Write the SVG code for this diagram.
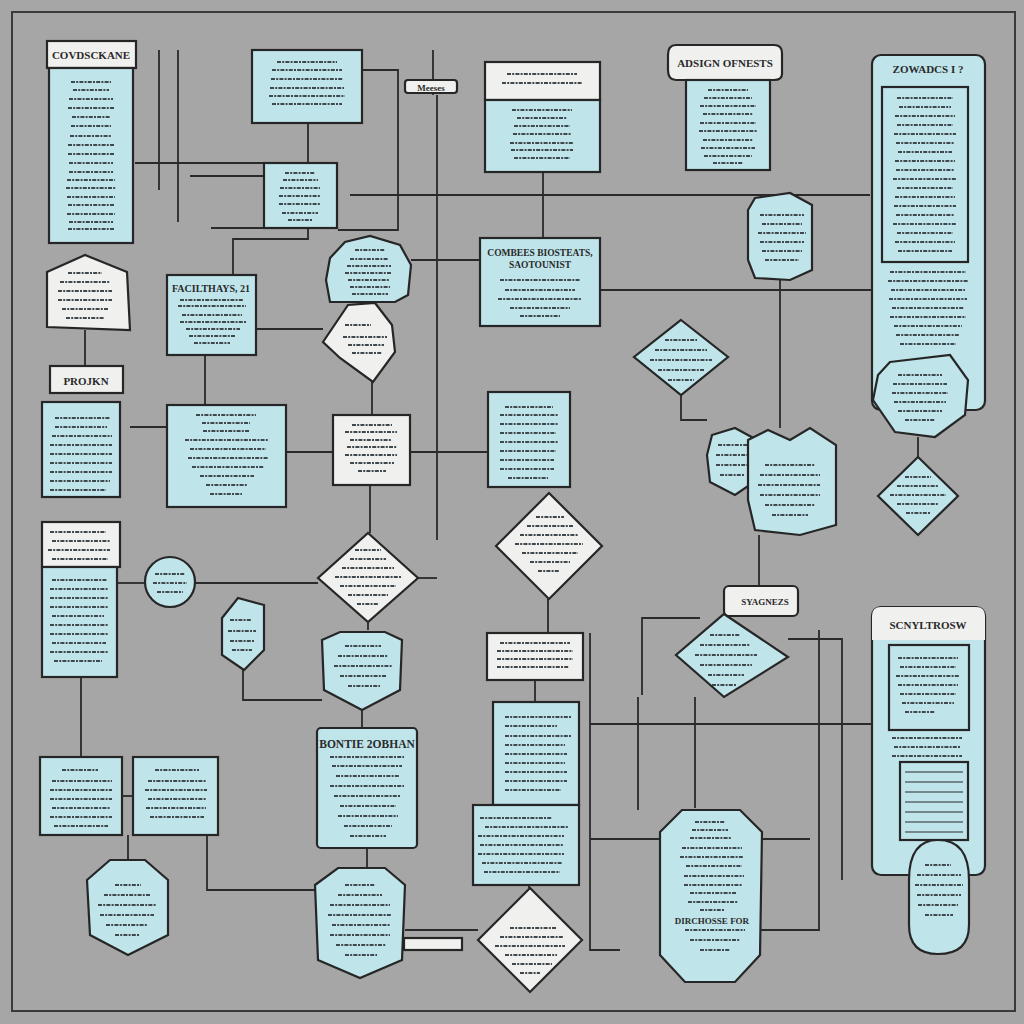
<svg xmlns="http://www.w3.org/2000/svg" width="1024" height="1024" viewBox="0 0 1024 1024">
<defs>
<style>
.c{fill:#bfe4ea;stroke:#262626;stroke-width:2.2}
.w{fill:#f0f0ef;stroke:#262626;stroke-width:2.2}
.ln{fill:none;stroke:#2a2a2a;stroke-width:1.8}
.s{fill:none;stroke:#3f484c;stroke-width:1.8;stroke-dasharray:4 1.2 2 1.2}
.t{font-family:"Liberation Serif",serif;font-size:11px;font-weight:bold;fill:#2a2a2a;text-anchor:middle}
</style>
</defs>
<rect width="1024" height="1024" fill="#a6a6a6"/>
<rect x="12" y="12" width="1003" height="999" fill="none" stroke="#3a3a3a" stroke-width="2"/>
<g id="connectors" class="ln">
<path d="M543 172V238"/>
<path d="M308 123V163"/>
<path d="M233 275V239H308V228"/>
<path d="M211 228H264"/>
<path d="M135 163H264"/>
<path d="M190 176H264"/>
<path d="M159 50V190"/>
<path d="M178 50V222"/>
<path d="M362 70H398V230H338"/>
<path d="M433 50V95"/>
<path d="M437 95V540"/>
<path d="M350 195H870"/>
<path d="M411 260H480"/>
<path d="M256 329H323"/>
<path d="M205 355V405"/>
<path d="M372 382V415"/>
<path d="M370 485V533"/>
<path d="M286 452H333"/>
<path d="M410 452H488"/>
<path d="M130 427H167"/>
<path d="M85 330V366"/>
<path d="M600 290H872"/>
<path d="M590 633V950H620"/>
<path d="M590 724H873"/>
<path d="M590 839H660"/>
<path d="M757 839H810"/>
<path d="M759 535V586"/>
<path d="M819 630V930H760"/>
<path d="M788 639H842V880"/>
<path d="M642 695V618H700"/>
<path d="M695 697V808"/>
<path d="M638 697V810"/>
<path d="M548 599V633"/>
<path d="M535 680V702"/>
<path d="M529 885V888"/>
<path d="M405 930H478"/>
<path d="M418 578H437"/>
<path d="M368 622V630"/>
<path d="M362 710V728"/>
<path d="M367 848V870"/>
<path d="M81 677V757"/>
<path d="M122 796H133"/>
<path d="M128 835V860"/>
<path d="M117 583H145"/>
<path d="M195 583H318"/>
<path d="M243 670V700H322"/>
<path d="M207 835V890H315"/>
<path d="M681 395V420H707"/>
<path d="M780 280V428"/>
<path d="M918 437V457"/>
<path d="M928 875V840"/>
</g>
<g id="n1"><rect class="w" x="47" y="41" width="89" height="27"/><text class="t" x="91" y="59">COVDSCKANE</text><rect class="c" x="49" y="68" width="84" height="175"/><path class="s" d="M71 82h40M73 90h36M69 99h44M68 108h46M72 117h38M71 126h40M70 136h42M68 145h46M68 154h46M69 163h44M69 172h44M67 180h48M66 188h50M67 197h48M68 205h46M67 214h48M69 222h44M68 229h46"/></g>
<g id="n2"><rect class="c" x="252" y="50" width="110" height="73"/><path class="s" d="M277 62h60M272 70h70M271 79h72M270 88h74M269 96h76M272 104h70"/></g>
<g id="n3"><rect class="c" x="264" y="163" width="73" height="65"/><path class="s" d="M285 173h30M283 180h35M280 188h40M279 196h42M279 204h42M282 213h36M288 220h24"/></g>
<g id="n4"><rect class="w" x="485" y="62" width="115" height="38"/><path class="s" d="M507 74h70M502 83h80"/><rect class="c" x="485" y="100" width="115" height="72"/><path class="s" d="M512 110h60M517 118h50M514 126h56M513 134h58M510 143h64M511 150h62M514 158h56"/></g>
<g id="n5"><path class="w" d="M676 45H774Q782 45 782 53V74Q782 80 774 80H676Q668 80 668 70V55Q668 45 676 45Z"/><text class="t" x="725" y="67">ADSIGN OFNESTS</text><rect class="c" x="686" y="80" width="84" height="90"/><path class="s" d="M708 90h40M704 98h48M700 106h56M703 114h50M700 123h56M699 131h58M703 140h50M701 148h54M704 156h48M713 163h30"/></g>
<g id="n6"><rect class="c" x="872" y="55" width="113" height="355" rx="9"/><text class="t" x="928" y="73">ZOWADCS I ?</text><rect class="c" x="882" y="87" width="86" height="175"/><path class="s" d="M897 98h56M899 107h52M895 116h60M897 125h56M894 134h62M896 143h58M898 152h54M895 161h60M896 170h58M893 179h64M897 188h56M895 197h60M894 206h62M896 215h58M893 224h64M897 233h56M895 242h60M898 251h54M890 272h76M888 281h80M891 290h74M889 299h78M892 308h72M890 317h76M894 326h68M896 335h64M900 344h56"/></g>
<g id="n37"><path class="c" d="M890 362L950 355L968 380L965 415L935 437L895 432L873 400L878 375Z"/><path class="s" d="M898 375h44M893 384h54M892 393h56M894 402h52M898 411h44M905 420h30"/></g>
<g id="n7"><path class="w" d="M47 272L85 255L127 272L130 330L47 327Z"/><path class="s" d="M68 273h34M60 282h50M58 291h54M58 300h54M62 309h46M66 318h38"/></g>
<g id="n8"><rect class="w" x="50" y="366" width="73" height="27"/><text class="t" x="86" y="385">PROJKN</text></g>
<g id="n9"><rect class="c" x="42" y="402" width="78" height="95"/><path class="s" d="M55 418h55M55 427h52M52 436h60M50 445h62M50 454h62M50 463h62M50 472h62M50 481h60M50 490h56"/></g>
<g id="n10"><rect class="w" x="42" y="522" width="78" height="45"/><path class="s" d="M50 532h56M52 541h58M48 550h62M52 559h56"/><rect class="c" x="42" y="567" width="75" height="110"/><path class="s" d="M52 580h55M50 589h58M50 598h58M50 607h58M52 616h52M50 625h58M50 634h58M52 643h54M50 652h58M54 661h48"/></g>
<g id="n11"><rect class="c" x="167" y="275" width="89" height="80"/><text class="t" x="211" y="292" style="font-size:10px">FACILTHAYS, 21</text><path class="s" d="M180 300h64M178 306h68M182 315h60M180 322h66M186 329h54M189 336h46M194 343h36"/></g>
<g id="n12"><rect class="c" x="167" y="405" width="119" height="102"/><path class="s" d="M196 415h60M202 423h48M203 431h46M185 440h84M190 449h76M188 458h80M192 467h72M200 476h54M206 485h42M210 494h32"/></g>
<g id="n13"><path class="c" d="M330 258L345 242L370 236L400 245L411 265L408 295L395 302L330 302L326 280Z"/><path class="s" d="M355 250h30M350 259h38M347 266h44M345 273h46M348 280h42M350 287h40M352 294h36"/></g>
<g id="n14"><path class="w" d="M323 342L348 305L375 303L392 325L395 352L373 382L340 358Z"/><path class="s" d="M345 325h26M343 337h44M348 345h36M352 353h30"/></g>
<g id="n15"><rect class="w" x="333" y="415" width="77" height="70"/><path class="s" d="M352 425h40M345 432h52M350 440h42M347 447h50M345 455h52M350 463h44M358 471h28"/></g>
<g id="n16"><path class="w" d="M368 533L418 578L368 622L318 578Z"/><path class="s" d="M355 550h26M350 559h36M342 568h52M335 577h66M340 586h56M348 595h40M357 604h22"/></g>
<g id="n17"><rect class="c" x="480" y="238" width="120" height="88"/><text class="t" x="540" y="256" style="font-size:9.5px">COMBEES BIOSTEATS,</text><text class="t" x="540" y="268" style="font-size:9.5px">SAOTOUNIST</text><path class="s" d="M500 280h80M505 290h70M498 299h84M510 308h60M520 316h40"/></g>
<g id="n18"><rect class="c" x="488" y="392" width="82" height="95"/><path class="s" d="M505 407h48M500 415h58M500 424h58M500 433h56M500 442h58M500 451h56M500 460h54M500 469h54M508 478h40"/></g>
<g id="n19"><path class="w" d="M549 493L602 546L549 599L496 546Z"/><path class="s" d="M536 517h28M527 526h46M520 535h58M515 544h68M522 553h56M530 562h40M538 571h22"/></g>
<g id="n20"><rect class="w" x="487" y="633" width="96" height="47"/><path class="s" d="M500 643h70M497 651h76M497 659h76M497 667h72"/></g>
<g id="n21"><rect class="c" x="493" y="702" width="86" height="103"/><path class="s" d="M505 717h66M505 726h52M505 736h66M505 745h60M505 754h62M505 763h60M505 772h62M505 781h62M505 790h56"/></g>
<g id="n22"><rect class="c" x="473" y="805" width="106" height="80"/><path class="s" d="M480 818h72M485 827h84M478 836h86M480 845h84M478 854h86M482 863h80M484 872h76"/></g>
<g id="n23"><path class="w" d="M530 888L582 940L530 992L478 940Z"/><path class="s" d="M510 928h46M500 937h64M495 946h70M505 955h52M512 964h40M520 973h20"/></g>
<g id="n24"><path class="c" d="M315 885L338 868L385 868L405 885L402 960L360 978L318 960Z"/><path class="s" d="M345 885h30M338 895h44M330 905h60M328 915h64M332 925h58M330 935h60M336 945h50M345 955h32"/></g>
<g id="n25"><rect class="c" x="317" y="728" width="100" height="120" rx="4"/><text class="t" x="367" y="748" style="font-size:11.5px">BONTIE 2OBHAN</text><path class="s" d="M330 757h74M332 766h70M336 776h64M330 786h74M334 796h66M340 806h56M338 816h60M344 826h48M350 836h36"/></g>
<g id="n26"><path class="c" d="M322 640L340 632L385 632L402 640L400 690L362 710L324 690Z"/><path class="s" d="M345 646h36M338 656h50M334 666h58M340 676h46M348 686h32"/></g>
<g id="n27"><path class="c" d="M222 618L238 598L264 605L264 650L244 670L222 655Z"/><path class="s" d="M230 620h22M228 631h28M230 641h24M232 650h20"/></g>
<g id="n28"><circle class="c" cx="170" cy="582" r="25"/><path class="s" d="M155 574h30M153 583h34M157 592h26"/></g>
<g id="n29"><rect class="c" x="40" y="757" width="82" height="78"/><path class="s" d="M62 770h36M52 781h60M50 790h62M50 799h62M52 808h58M50 817h62M54 826h54"/></g>
<g id="n30"><rect class="c" x="133" y="757" width="85" height="78"/><path class="s" d="M155 770h44M148 781h58M145 790h62M148 799h58M146 808h60M150 817h54"/></g>
<g id="n31"><path class="c" d="M87 880L110 860L145 860L168 880L168 935L128 955L90 935Z"/><path class="s" d="M115 885h26M104 895h46M98 905h58M100 915h54M106 925h42M115 935h24"/></g>
<g id="n32"><path class="c" d="M755 198L790 193L812 205L812 270L790 280L755 278L748 260L748 210Z"/><path class="s" d="M760 215h44M762 224h40M758 233h48M760 242h44M762 251h40M765 260h34"/></g>
<g id="n33"><path class="c" d="M681 320L728 357L681 395L634 357Z"/><path class="s" d="M665 340h32M655 350h52M650 360h62M658 370h46M668 380h26"/></g>
<g id="n34"><path class="c" d="M712 435L735 428L757 440L757 480L735 495L710 482L707 455Z"/><path class="s" d="M718 445h30M716 455h34M716 465h32M720 475h24"/></g>
<g id="n35"><path class="c" d="M748 440L768 430L790 440L810 428L836 445L836 525L800 535L755 530L748 500Z"/><path class="s" d="M765 465h50M760 475h60M758 485h62M760 495h60M765 505h50M772 515h36"/></g>
<g id="n36"><path class="c" d="M918 457L958 496L918 535L878 496Z"/><path class="s" d="M905 477h26M897 486h42M890 495h56M897 504h42M906 513h24"/></g>
<g id="n38"><rect class="w" x="724" y="586" width="74" height="30" rx="5"/><text class="t" x="765" y="605" style="font-size:9px">SYAGNEZS</text></g>
<g id="n39"><path class="c" d="M724 614L788 657L724 697L676 655Z"/><path class="s" d="M710 635h30M700 645h50M695 655h62M700 665h52M708 675h36M712 685h24"/></g>
<g id="n40"><path class="c" d="M660 832L682 810L740 810L762 832L760 955L735 982L685 982L660 955Z"/><path class="s" d="M695 822h30M692 830h36M690 838h42M682 848h60M680 857h64M686 866h56M684 876h60M684 885h58M690 893h46M688 902h50M700 910h24"/><text class="t" x="712" y="924" style="font-size:9px">DIRCHOSSE FOR</text><path class="s" d="M685 930h60M690 940h50M700 950h30"/></g>
<g id="n41"><rect class="c" x="872" y="607" width="113" height="268" rx="9"/><path class="w" d="M881 607H976Q985 607 985 616V640H872V616Q872 607 881 607Z" style="stroke:none"/><text class="t" x="928" y="629">SCNYLTROSW</text><rect class="c" x="889" y="645" width="80" height="85"/><path class="s" d="M898 658h60M900 667h56M896 676h64M898 685h60M900 694h56M902 703h52M905 712h30M892 738h70M894 747h66M892 756h70"/><rect class="c" x="900" y="762" width="68" height="78"/><path class="ln" d="M905 772h58M905 782h58M905 792h58M905 802h58M905 812h58M905 822h58M905 832h58" style="stroke-width:1"/></g>
<g id="n42"><path class="c" d="M909 880Q909 840 938 840Q969 840 969 880V925Q969 954 938 954Q909 954 909 925Z"/><path class="s" d="M925 865h26M917 875h44M915 885h48M917 895h44M918 905h40M925 915h28"/></g>
<g id="n43"><rect class="w" x="404" y="938" width="58" height="12"/></g>
<g id="n44"><rect class="w" x="405" y="80" width="52" height="13" rx="3"/><text class="t" x="431" y="91" style="font-size:9px">Meeses</text></g>
</svg>
